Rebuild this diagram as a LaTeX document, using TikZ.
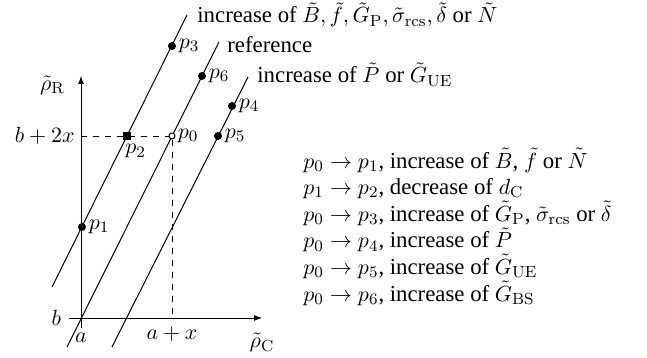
\documentclass[tikz,border=0pt]{standalone}
\usepackage[no-math]{fontspec}
\setmainfont{Liberation Serif}
\usepackage{tikz}
\usetikzlibrary{arrows.meta,positioning}

\begin{document}
\begin{tikzpicture}[
  x=0.5pt,y=-0.5pt,
  every node/.style={font=\fontsize{11.4}{13.3}\selectfont},
  axis/.style={-{Latex[length=4pt,width=3pt]},line width=0.5pt},
  trend/.style={line width=0.5pt},
  guide/.style={dashed,line width=0.5pt},
  dot/.style={circle,fill,inner sep=0pt,minimum size=4pt},
  sqdot/.style={rectangle,fill,inner sep=0pt,minimum size=4pt},
  odot/.style={circle,draw,fill=white,line width=0.5pt,inner sep=0pt,minimum size=3pt},
  lab/.style={inner sep=1pt}
]
\useasboundingbox (0,0) rectangle (647,358);

% axes
\coordinate (xs) at (69,318);
\coordinate (xe) at (262,318);
\coordinate (ys) at (81,328);
\coordinate (ye) at (81,76);
\draw[axis] (xs) -- (xe);
\draw[axis] (ys) -- (ye);
\node[anchor=north] (rhoC) at (262,326) {$\tilde{\rho}_{\mathrm{C}}$};
\node[anchor=east] (rhoR) at (72,85) {$\tilde{\rho}_{\mathrm{R}}$};
\node[anchor=east] (bl) at (68,318) {$b$};
\node[anchor=north] (al) at (81,326) {$a$};

% parallel lines
\coordinate (l1s) at (52,287);  \coordinate (l1e) at (187,15);
\coordinate (l2s) at (67,347);  \coordinate (l2e) at (219,42);
\coordinate (l3s) at (112,347); \coordinate (l3e) at (248,77);
\draw[trend] (l1s) -- (l1e);
\draw[trend] (l2s) -- (l2e);
\draw[trend] (l3s) -- (l3e);
\node[anchor=base west,inner sep=0pt] (t1) at (197,23)
  {increase of $\tilde{B}, \tilde{f}, \tilde{G}_{\mathrm{P}}, \tilde{\sigma}_{\mathrm{rcs}}, \tilde{\delta}$ or $\tilde{N}$};
\node[anchor=base west,inner sep=0pt] (t2) at (227,53) {reference};
\node[anchor=base west,inner sep=0pt] (t3) at (257,83)
  {increase of $\tilde{P}$ or $\tilde{G}_{\mathrm{UE}}$};

% guides through p0
\coordinate (g1) at (81,136);
\coordinate (g2) at (172,318);
\node[odot] (p0) at (172,136) {};
\draw[guide] (g1) -- (p0);
\draw[guide] (p0) -- (g2);
\node[anchor=east,inner sep=0pt] (b2x) at (75,136) {$b+2x$};
\node[anchor=north] (ax) at (172,320) {$a+x$};

% operating points
\node[lab,right=0pt of p0] {$p_0$};
\node[dot,label={[lab]right:$p_1$}] (p1) at (82,227) {};
\node[sqdot] (p2) at (127,136) {};
\node[lab,anchor=north west] at (123,142) {$p_2$};
\node[dot,label={[lab]right:$p_3$}] (p3) at (172,46) {};
\node[dot,label={[lab]right:$p_4$}] (p4) at (232,106) {};
\node[dot,label={[lab]right:$p_5$}] (p5) at (218,136) {};
\node[dot,label={[lab]right:$p_6$}] (p6) at (202,76) {};

% legend
\node[anchor=base west,inner sep=0pt] (c1) at (303,168)
  {$p_0 \rightarrow p_1$, increase of $\tilde{B}$, $\tilde{f}$ or $\tilde{N}$};
\node[anchor=base west,inner sep=0pt] (c2) at (303,194.6)
  {$p_1 \rightarrow p_2$, decrease of $d_{\mathrm{C}}$};
\node[anchor=base west,inner sep=0pt] (c3) at (303,221.2)
  {$p_0 \rightarrow p_3$, increase of $\tilde{G}_{\mathrm{P}}$, $\tilde{\sigma}_{\mathrm{rcs}}$ or $\tilde{\delta}$};
\node[anchor=base west,inner sep=0pt] (c4) at (303,247.8)
  {$p_0 \rightarrow p_4$, increase of $\tilde{P}$};
\node[anchor=base west,inner sep=0pt] (c5) at (303,274.4)
  {$p_0 \rightarrow p_5$, increase of $\tilde{G}_{\mathrm{UE}}$};
\node[anchor=base west,inner sep=0pt] (c6) at (303,301)
  {$p_0 \rightarrow p_6$, increase of $\tilde{G}_{\mathrm{BS}}$};
\end{tikzpicture}
\end{document}
